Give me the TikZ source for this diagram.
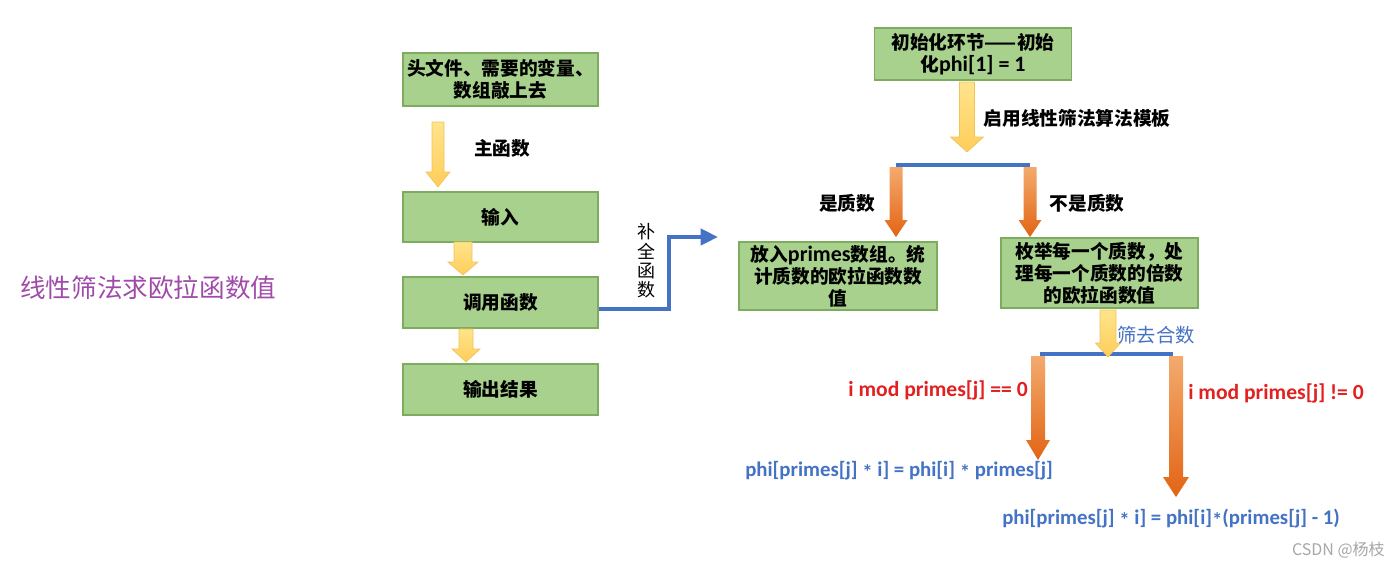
\documentclass[tikz,border=0pt]{standalone}
\usepackage{fontspec}
\setmainfont{Carlito}
\newfontfamily\cjk{Noto Sans CJK SC}
\newfontfamily\lat{Carlito}
\usetikzlibrary{arrows.meta,calc}
\definecolor{boxfill}{RGB}{169,209,142}
\definecolor{boxline}{RGB}{125,172,95}
\definecolor{myblue}{RGB}{68,114,196}
\definecolor{myred}{RGB}{226,32,32}
\definecolor{mypurple}{RGB}{160,75,170}
\definecolor{yel1}{RGB}{255,228,140}
\definecolor{yel2}{RGB}{255,205,90}
\definecolor{yelline}{RGB}{240,195,90}
\definecolor{or1}{RGB}{244,170,110}
\definecolor{or2}{RGB}{226,100,20}
\newcommand\astr{\raisebox{-0.3ex}{*}}
\newcommand\latin[1]{{\lat\fontsize{16.5}{16.5}\selectfont #1}}
\newcommand\blockarrow[7]{%
 \path[#7] ({#1-#4/2},#2) -- ({#1+#4/2},#2) -- ({#1+#4/2},{#3-#6}) -- ({#1+#5/2},{#3-#6}) -- (#1,#3) -- ({#1-#5/2},{#3-#6}) -- ({#1-#4/2},{#3-#6}) -- cycle;}
\tikzset{
 box/.style={draw=boxline, line width=0.8pt, fill=boxfill, align=center, inner sep=1pt, font=\cjk\bfseries\fontsize{14}{16.5}\selectfont},
 sz/.style 2 args={minimum width=#1*0.75pt, minimum height=#2*0.75pt},
 lbl/.style={font=\cjk\bfseries\fontsize{14}{16}\selectfont, inner sep=0pt},
 yarrow/.style={top color=yel1, bottom color=yel2, draw=yelline, line width=0.5pt},
 oarrow/.style={top color=or1, bottom color=or2, draw=none},
 bar/.style={draw=myblue, line width=3pt},
 formula/.style={font=\lat\bfseries\fontsize{15.6}{18}\selectfont, text=myblue, inner sep=0pt},
 cond/.style={font=\lat\bfseries\fontsize{16.2}{18}\selectfont, text=myred, inner sep=0pt},
}
\begin{document}
\begin{tikzpicture}[x=0.75pt,y=-0.75pt]
\useasboundingbox (0,0) rectangle (1400,568);
% title
\node[font=\cjk\fontsize{19.2}{22}\selectfont, text=mypurple, anchor=west, inner sep=0pt] (title) at (20,288) {线性筛法求欧拉函数值};
% left column
\node[box, sz={195}{53}] (b1) at (500.5,79.5) {头文件、需要的变量、\\数组敲上去};
\node[box, sz={195}{50}] (b2) at (500.5,217) {输入};
\node[box, sz={195}{51}] (b3) at (500.5,302.5) {调用函数};
\node[box, sz={195}{51}] (b4) at (500.5,389.5) {输出结果};
\blockarrow{438}{122}{187}{12}{24}{15}{yarrow}
\blockarrow{463}{242}{275}{18}{30}{13}{yarrow}
\blockarrow{466}{329}{362}{14}{28}{13}{yarrow}
\node[lbl] (lmain) at (502,148) {主函数};
% connector
\draw[myblue, line width=3pt, -{Triangle[length=13pt,width=12pt]}] ([yshift=-4.5pt]b3.east) -| (669,237) -- (718,237);
\node[font=\cjk\fontsize{13.5}{14.5}\selectfont, align=center, inner sep=0pt] (lbq) at (646,261) {补\\全\\函\\数};
% right part
\node[box, sz={197}{52}] (t0) at (973,54) {初始化环节——初始\\化\latin{phi[1] = 1}};
\node[box, sz={198}{68}] (pl) at (838,276) {放入\latin{primes}数组。统\\计质数的欧拉函数数\\值};
\node[box, sz={197}{70}] (pr) at (1099.5,273) {枚举每一个质数，处\\理每一个质数的倍数\\的欧拉函数值};
\blockarrow{967}{82}{152}{15}{33}{15}{yarrow}
\node[lbl] (lqy) at (1077,118) {启用线性筛法算法模板};
\blockarrow{896}{167}{237}{13}{23}{17}{oarrow}
\blockarrow{1030}{167}{237}{13}{23}{17}{oarrow}
\draw[bar] (896,165) -- (1030,165);
\node[lbl] (lyes) at (847,203) {是质数};
\node[lbl] (lno) at (1087,203) {不是质数};
% lower part
\blockarrow{1038}{356}{460}{14}{24}{20}{oarrow}
\blockarrow{1176}{356}{497}{14}{26}{20}{oarrow}
\draw[bar] (1040,354) -- (1173,354);
\blockarrow{1108}{310}{357}{16}{25}{14}{yarrow}
\node[font=\cjk\fontsize{14.5}{16}\selectfont, text=myblue, inner sep=0pt] (lsq) at (1156,335) {筛去合数};
\node[cond, anchor=east] (c1) at (1028,390) {i mod primes[j] == 0};
\node[cond, anchor=west] (c2) at (1188,393) {i mod primes[j] != 0};
\node[formula, anchor=west] (f1) at (745,471) {phi[primes[j] \astr{} i] = phi[i] \astr{} primes[j]};
\node[formula, anchor=west] (f2) at (1002,519) {phi[primes[j] \astr{} i] = phi[i]\astr(primes[j] - 1)};
% watermark
\node[font=\cjk\fontsize{12}{14}\selectfont, text=gray!70, anchor=east, inner sep=0pt] (wm) at (1385,550) {CSDN @杨枝};
\end{tikzpicture}
\end{document}
